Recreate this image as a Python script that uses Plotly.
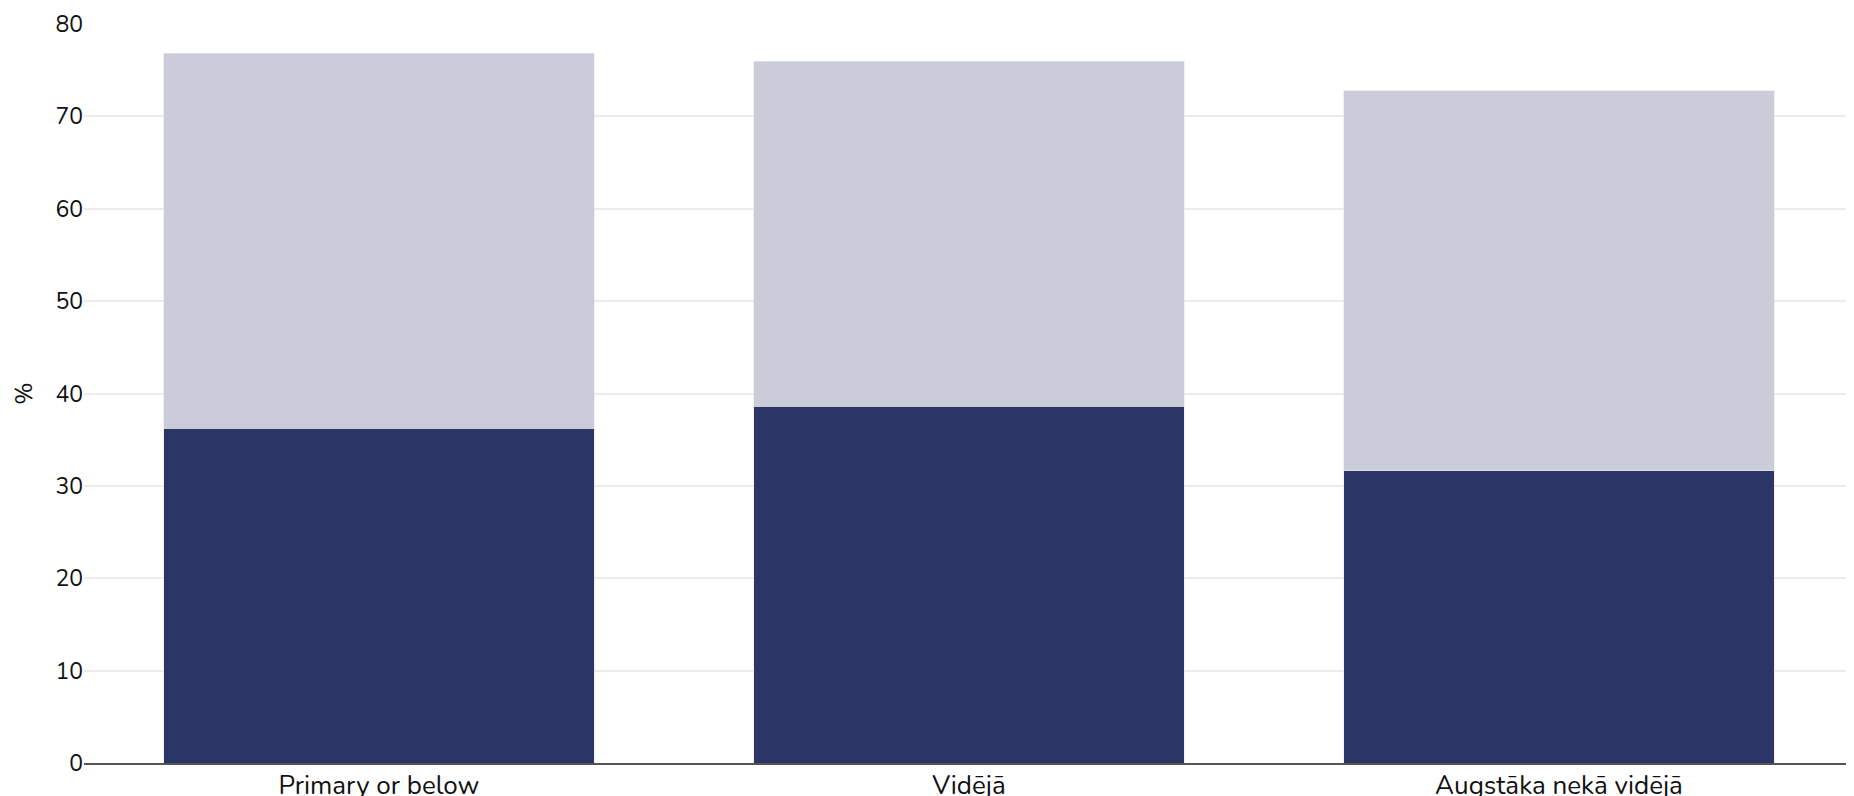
import plotly.graph_objects as go

categories = ["Primary or below", "Vidējā", "Augstāka nekā vidējā"]
lower_values = [36.25, 38.6, 31.65]
total_values = [76.85, 75.95, 72.75]
upper_values = [t - l for t, l in zip(total_values, lower_values)]
y_ticks = [0, 10, 20, 30, 40, 50, 60, 70, 80]

FONT = "Nunito, Lato, 'Open Sans', sans-serif"

fig = go.Figure()
fig.add_trace(go.Bar(
    x=categories, y=lower_values, name="lower",
    marker=dict(color="#2B3664", line=dict(color="#E6E8EF", width=0.6)),
    showlegend=False, hoverinfo="x+y",
))
fig.add_trace(go.Bar(
    x=categories, y=upper_values, name="upper",
    marker=dict(color="#CACCD9", line=dict(color="#E6E8EF", width=0.6)),
    showlegend=False, hoverinfo="x+y",
))

fig.update_layout(
    barmode="stack",
    bargap=0.27,
    width=1854, height=796,
    margin=dict(l=76, r=8, t=16, b=41, autoexpand=False),
    paper_bgcolor="white", plot_bgcolor="white",
    font=dict(family=FONT, size=23, color="#111111"),
    showlegend=False,
)
fig.update_xaxes(
    range=[-0.5, 2.5], showgrid=False, showline=True,
    linecolor="#555555", linewidth=2, ticks="", automargin=False,
    tickfont=dict(size=26), ticklabelstandoff=-2,
)
fig.update_yaxes(
    range=[0, 80], tickvals=y_ticks, showgrid=True, gridcolor="#EBEBEB",
    gridwidth=1.5, zeroline=False, showline=False, ticks="",
    automargin=False, title=dict(text="%", standoff=30, font=dict(size=24)),
    tickfont=dict(size=23),
)

fig.write_html("out.html")
